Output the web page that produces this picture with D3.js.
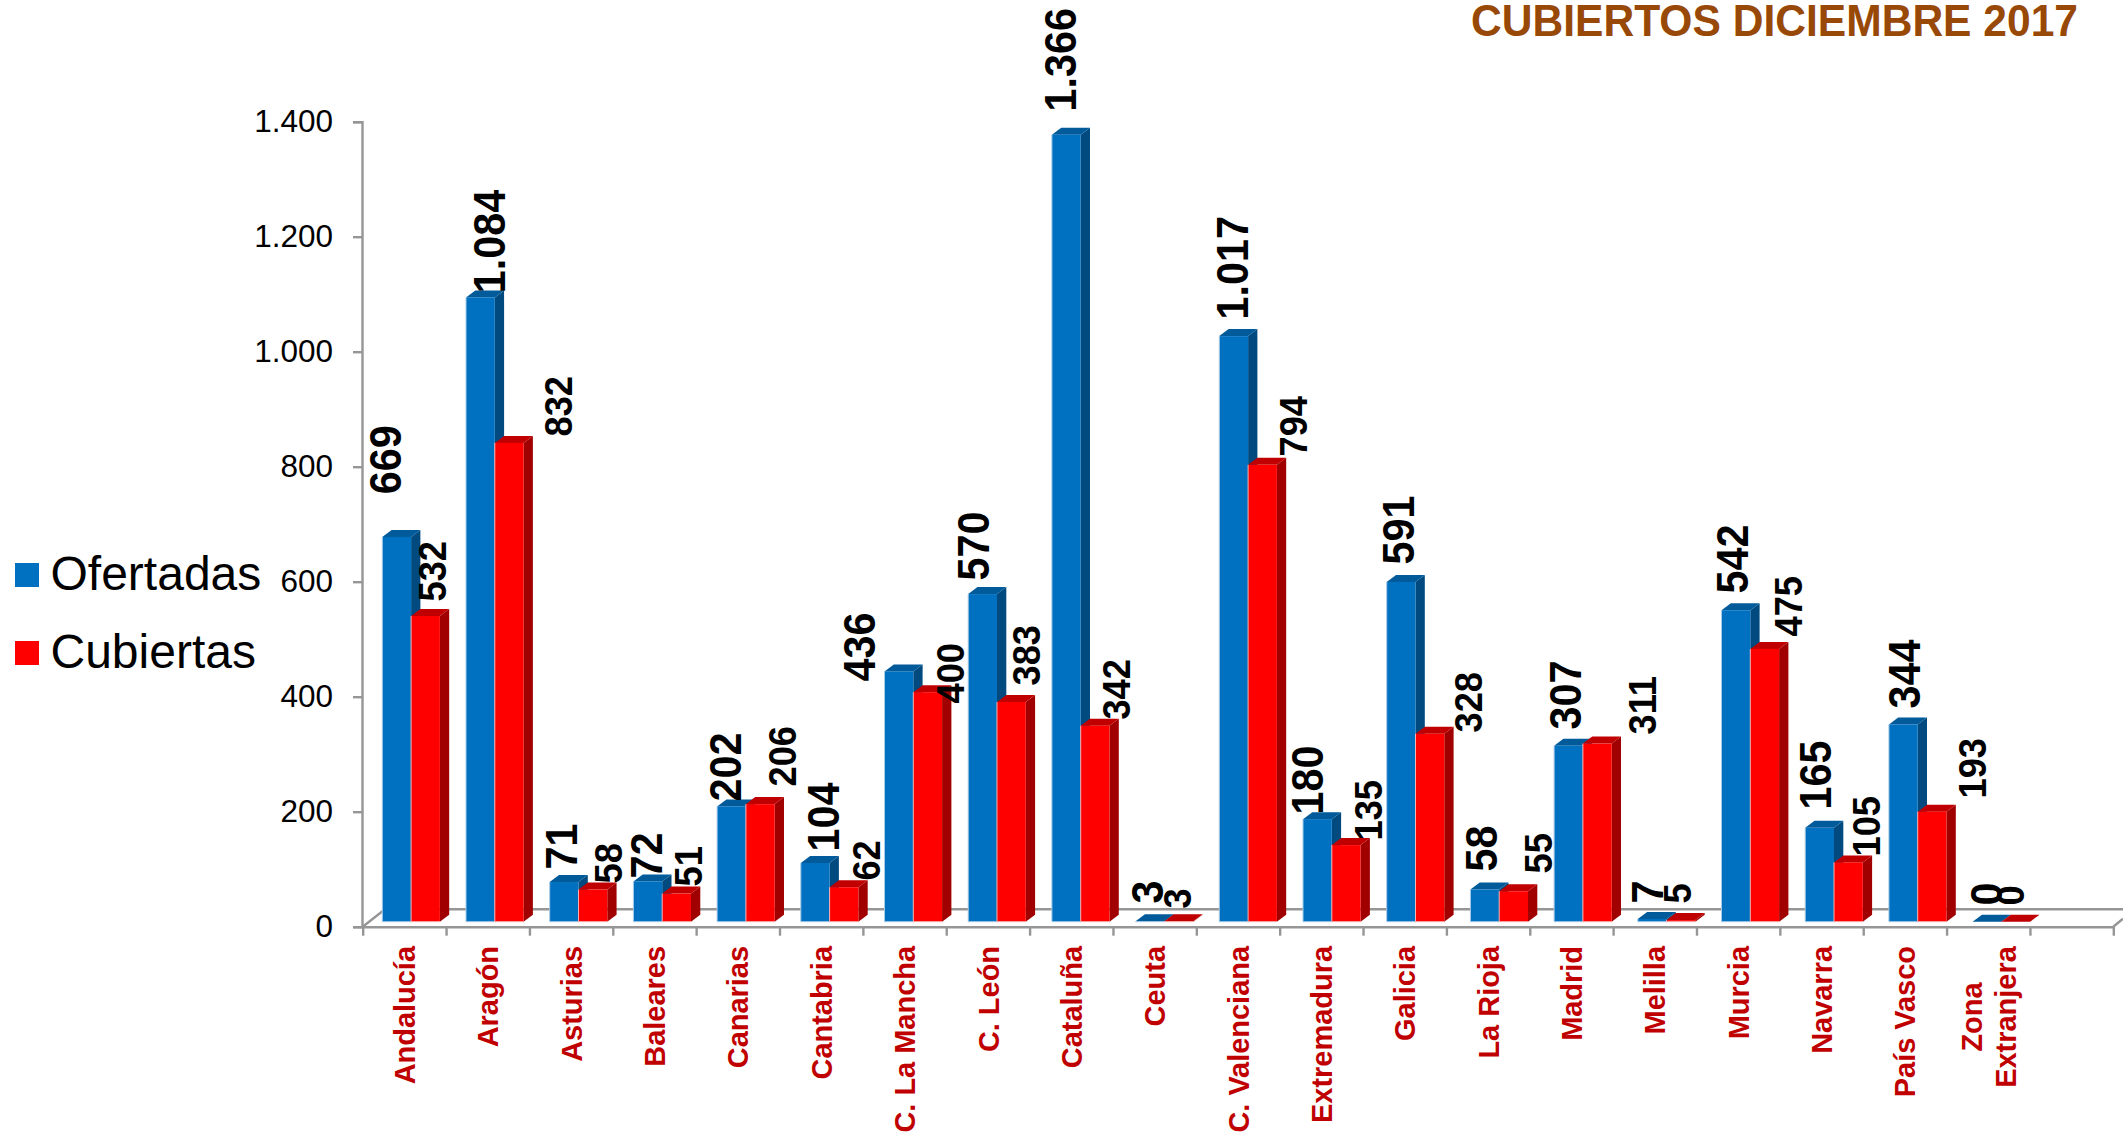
<!DOCTYPE html>
<html><head><meta charset="utf-8">
<script src="https://cdn.jsdelivr.net/npm/d3@7/dist/d3.min.js"></script>
<style>
html,body{margin:0;padding:0;background:#fff;overflow:hidden}
text{font-family:"Liberation Sans",Arial,sans-serif}
</style></head><body><svg id="c" width="2123" height="1134"></svg>
<script>
const categories=["Andalucía","Aragón","Asturias","Baleares","Canarias","Cantabria","C. La Mancha","C. León","Cataluña","Ceuta","C. Valenciana","Extremadura","Galicia","La Rioja","Madrid","Melilla","Murcia","Navarra","País Vasco","Zona Extranjera"];
const ofertadas=[669,1084,71,72,202,104,436,570,1366,3,1017,180,591,58,307,7,542,165,344,0];
const cubiertas=[532,832,58,51,206,62,400,383,342,3,794,135,328,55,311,5,475,105,193,0];
const yTicks=[0,200,400,600,800,1000,1200,1400];
const seriesNames=["Ofertadas","Cubiertas"];
const title="CUBIERTOS DICIEMBRE 2017";

// Layout only: hand placement of the value labels relative to the top of each bar
const nudgeOfertadas=[[18.4,-44.3],[39,-6.7],[27.3,-12.9],[28.6,-3.3],[23.9,-5.6],[38.2,-11.9],[-9.5,9],[20.8,-14.9],[24.1,-26.3],[27.4,-18],[28.7,-18.9],[20,-5.2],[27.3,-18.9],[26.6,-18.4],[26.9,-17.2],[25.2,-15.7],[26.5,-18],[25.8,-18.8],[31.1,-16.9],[29.4,-17.7]];
const nudgeCubiertas=[[35,-15.8],[77.3,-8.3],[43.6,-6.4],[39.9,-7.4],[50.2,-18.3],[50.5,-7],[50.8,10.3],[43.1,-17.5],[49.4,-7],[26.7,-13],[59,-10.2],[50.3,-5.1],[66.6,-2.1],[52.9,-18.1],[73.2,-9.9],[24.5,-16.8],[51.8,-13.6],[46.1,-6.3],[68.4,-13.7],[22.7,-17.7]];

const svg=d3.select("#c");
const axisColor="#969696";
const fmt=d3.formatLocale({decimal:",",thousands:".",grouping:[3],currency:["",""]}).format(",d");

const yAxisScale=d3.scaleLinear().domain([0,1400]).range([926.7,121.7]);
const yBar=d3.scaleLinear().domain([0,1400]).range([923,115.1]);
const yLabel=d3.scaleLinear().domain([0,1400]).range([923.2,118.2]);
const barBase=921.7;
const xTick=d3.scaleLinear().domain([0,21]).range([362.7,2113.3]);
const xBand=d3.scaleBand().domain(categories).range([382.3,2030.2]).paddingInner(0.312).paddingOuter(0);
const xSub=d3.scaleBand().domain(seriesNames).range([0,xBand.bandwidth()]);
const depthX=9.3, depthY=7;

// floor
const floor=svg.append("g").attr("stroke",axisColor).attr("stroke-width",2.4).attr("fill","none");
floor.append("path").attr("d",d3.line()([[xTick(0),yAxisScale(0)],[385,yAxisScale(0)-17.4],[2123,yAxisScale(0)-17.4]]));
floor.append("path").attr("d",d3.line()([[xTick(21),yAxisScale(0)],[2123,yAxisScale(0)-8]]));

// axes
const gy=svg.append("g").attr("transform",`translate(${xTick(0)-0.7},0)`)
  .call(d3.axisLeft(yAxisScale).tickValues(yTicks).tickFormat(fmt).tickSize(9).tickPadding(20));
gy.selectAll("path,line").attr("stroke",axisColor).attr("stroke-width",2.4);
gy.selectAll("text").attr("font-size",31.5).attr("fill","#000").attr("font-family","Liberation Sans");
const gx=svg.append("g").attr("transform",`translate(0,${yAxisScale(0)})`)
  .call(d3.axisBottom(xTick).tickValues(d3.range(22)).tickFormat("").tickSize(9).tickSizeOuter(0));
gx.selectAll("path,line").attr("stroke",axisColor).attr("stroke-width",2.4);

// bars
const palette={Ofertadas:{front:"#0070C0",side:"#014A80",top:"#015A9A",edge:"#A9CBE6"},
               Cubiertas:{front:"#FF0000",side:"#A00000",top:"#C00000",edge:"#F4B4B4"}};
const rows=categories.map((c,i)=>({c,i,vals:[["Ofertadas",ofertadas[i]],["Cubiertas",cubiertas[i]]]}));
const groups=svg.append("g").selectAll("g").data(rows).join("g")
  .attr("transform",d=>`translate(${xBand(d.c)},0)`);
groups.each(function(d){
  const g=d3.select(this);
  d.vals.forEach(([s,v])=>{
    const p=palette[s], x0=xSub(s), w=xSub.bandwidth(), b=barBase, t=Math.min(yBar(v),b);
    const poly=pts=>d3.line()(pts)+"Z";
    g.append("path").attr("d",poly([[x0+w,t],[x0+w+depthX,t-depthY],[x0+w+depthX,b-depthY],[x0+w,b]])).attr("fill",p.side);
    g.append("path").attr("d",poly([[x0,t],[x0+depthX,t-depthY],[x0+w+depthX,t-depthY],[x0+w,t]])).attr("fill",p.top);
    if(v>0){
      g.append("rect").attr("x",x0).attr("y",t).attr("width",w).attr("height",b-t).attr("fill",p.front);
      g.append("path").attr("d",d3.line()([[x0,t],[x0,b],[x0+w,b]])).attr("fill","none").attr("stroke",p.edge).attr("stroke-width",1);
    }
  });
});

// value labels
function valueLabels(name,vals,nudges,size,squeeze){
  svg.append("g").selectAll("text").data(vals).join("text")
    .attr("transform",(v,i)=>{
      const x=xBand(categories[i])+xSub(name)+nudges[i][0], y=yLabel(v)+nudges[i][1];
      return `translate(${x},${y}) rotate(-90) scale(${squeeze},1)`;
    })
    .attr("font-size",size).attr("font-weight","bold").attr("fill","#000")
    .text(v=>fmt(v));
}
valueLabels("Ofertadas",ofertadas,nudgeOfertadas,45,0.92);
valueLabels("Cubiertas",cubiertas,nudgeCubiertas,39,0.93);

// category labels
const catSize=30, catSqueeze=0.965, labelTop=946;
const cat=svg.append("g").selectAll("text").data(categories).join("text")
  .attr("font-size",catSize).attr("font-weight","bold").attr("fill","#C00000");
cat.each(function(c,i){
  const mid=xTick(i+0.5)+10.6, words=c==="Zona Extranjera"?c.split(" "):[c];
  const t=d3.select(this);
  if(words.length===1){
    t.attr("transform",`translate(${mid},${labelTop}) rotate(-90) scale(${catSqueeze},1)`).attr("text-anchor","end").text(c);
  }else{
    t.attr("transform",`translate(${mid-16.6},1017) rotate(-90) scale(${catSqueeze},1)`).attr("text-anchor","middle");
    words.forEach((w,k)=>t.append("tspan").attr("x",0).attr("dy",k?33.3:0).text(w));
  }
});

// legend
const legendY=d3.scalePoint().domain(seriesNames).range([563,641]);
const lg=svg.append("g").selectAll("g").data(seriesNames).join("g").attr("transform",s=>`translate(15,${legendY(s)})`);
lg.append("rect").attr("width",24).attr("height",24).attr("fill",s=>palette[s].front);
lg.append("text").attr("x",35.5).attr("y",27).attr("font-size",48).attr("fill","#000").text(s=>s);

// title
svg.append("text").attr("x",1471).attr("y",35.5).attr("textLength",607).attr("lengthAdjust","spacingAndGlyphs").attr("font-size",44).attr("font-weight","bold").attr("fill","#984807").text(title);
</script></body></html>
